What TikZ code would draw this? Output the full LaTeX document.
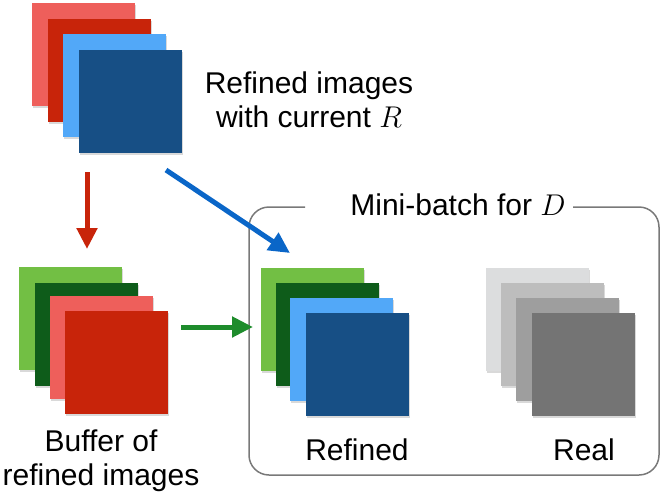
\RequirePackage{fix-cm}
\documentclass[tikz,border=0pt]{standalone}
\usepackage{fontspec}
\setmainfont{Liberation Sans}
\usetikzlibrary{arrows.meta,shadows}

\definecolor{lightred}{HTML}{EE5F5B}
\definecolor{darkred}{HTML}{C8240A}
\definecolor{lightblue}{HTML}{52A8F8}
\definecolor{darkblue}{HTML}{174F85}
\definecolor{lightgreen}{HTML}{72BF44}
\definecolor{darkgreen}{HTML}{0E5C1A}
\definecolor{gray1}{HTML}{DCDDDE}
\definecolor{gray2}{HTML}{BDBDBD}
\definecolor{gray3}{HTML}{9E9E9E}
\definecolor{gray4}{HTML}{747474}
\definecolor{bluearrow}{HTML}{0A66C8}
\definecolor{greenarrow}{HTML}{1E8C2C}

\begin{document}
\begin{tikzpicture}[x=1pt, y=-1pt,
        img/.style = {minimum size=103pt, inner sep=0pt, anchor=north west,
                      drop shadow={shadow xshift=1pt, shadow yshift=-1.5pt, opacity=0.3}},
        txt/.style = {font=\fontsize{30}{34}\selectfont, align=center, inner sep=0pt},
        flow/.style = {line width=5pt, -{Triangle[length=21pt, width=20pt]}}]
    \useasboundingbox (0,0) rectangle (665,493);

    % refined images with current R
    \node[img, fill=lightred]   (r1) at (32,3)   {};
    \node[img, fill=darkred]    (r2) at (48,19)  {};
    \node[img, fill=lightblue]  (r3) at (63,34)  {};
    \node[img, fill=darkblue]   (r4) at (79,50)  {};
    \node[txt, anchor=base] (curtext) at (309,127) {Refined images\\with current $R$};

    % buffer
    \node[img, fill=lightgreen] (b1) at (19,267) {};
    \node[img, fill=darkgreen]  (b2) at (35,283) {};
    \node[img, fill=lightred]   (b3) at (50,296) {};
    \node[img, fill=darkred]    (b4) at (65,311) {};
    \node[txt, anchor=base] (buftext) at (101,485) {Buffer of\\refined images};

    % mini-batch
    \draw[gray!95!black, line width=1.5pt, rounded corners=20pt]
        (573,207) -| (659,475) -| (249,207) -- (305,207);
    \node[txt, anchor=base] (batch) at (458,215) {Mini-batch for $D$};

    \node[img, fill=lightgreen] (f1) at (261,268) {};
    \node[img, fill=darkgreen]  (f2) at (276,283) {};
    \node[img, fill=lightblue]  (f3) at (290,298) {};
    \node[img, fill=darkblue]   (f4) at (306,313) {};
    \node[txt, anchor=base] (reftext) at (357,460) {Refined};

    \node[img, fill=gray1] (g1) at (486,268) {};
    \node[img, fill=gray2] (g2) at (501,283) {};
    \node[img, fill=gray3] (g3) at (516,298) {};
    \node[img, fill=gray4] (g4) at (532,313) {};
    \node[txt, anchor=base] (realtext) at (584,460) {Real};

    \coordinate (redtail)   at (87,172);
    \coordinate (redhead)   at (87,249);
    \coordinate (bluetail)  at (166,170);
    \coordinate (bluehead)  at (290,253);
    \coordinate (greentail) at (181,327);
    \coordinate (greenhead) at (253,327);

    \draw[flow, darkred]    (redtail) -- (redhead);
    \draw[flow, bluearrow]  (bluetail) -- (bluehead);
    \draw[flow, greenarrow] (greentail) -- (greenhead);

\end{tikzpicture}
\end{document}
